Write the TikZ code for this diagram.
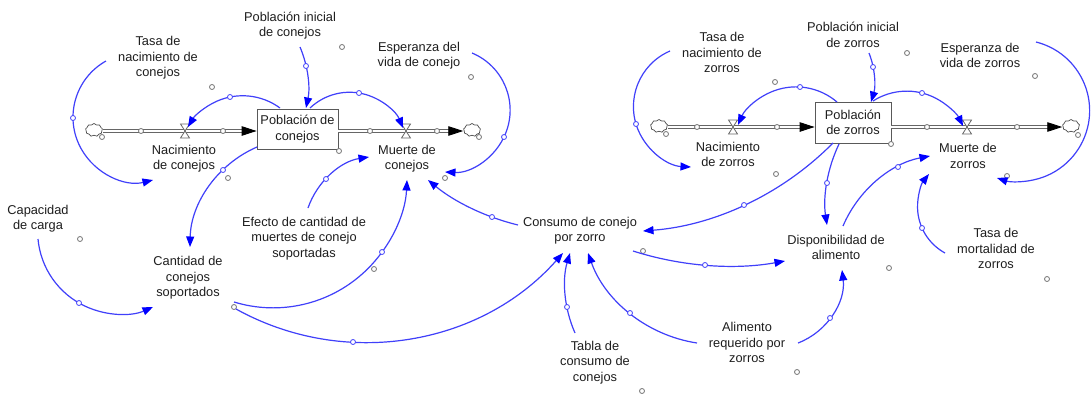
\documentclass[tikz,border=0pt]{standalone}
\usepackage{fontspec}
\setmainfont{Liberation Sans}
\usetikzlibrary{arrows.meta,shapes.symbols}
\definecolor{linkblue}{RGB}{64,64,250}
\definecolor{txt}{RGB}{30,30,30}
\newcount\lkcount
% circular arc through three points (start, through, end)
\newcommand\arclinkraw[4][]{%
  \path (#2) coordinate (lkA) (#3) coordinate (lkB) (#4) coordinate (lkC);
  \pgfpointanchor{lkA}{center}\pgfgetlastxy{\lkAx}{\lkAy}%
  \pgfpointanchor{lkB}{center}\pgfgetlastxy{\lkBx}{\lkBy}%
  \pgfpointanchor{lkC}{center}\pgfgetlastxy{\lkCx}{\lkCy}%
  \edef\lkbx{\fpeval{(\lkBx)-(\lkAx)}}%
  \edef\lkby{\fpeval{(\lkBy)-(\lkAy)}}%
  \edef\lkcx{\fpeval{(\lkCx)-(\lkAx)}}%
  \edef\lkcy{\fpeval{(\lkCy)-(\lkAy)}}%
  \edef\lkd{\fpeval{2*((\lkbx)*(\lkcy)-(\lkby)*(\lkcx))}}%
  \edef\lkbb{\fpeval{(\lkbx)^2+(\lkby)^2}}%
  \edef\lkcc{\fpeval{(\lkcx)^2+(\lkcy)^2}}%
  \edef\lkux{\fpeval{((\lkcy)*(\lkbb)-(\lkby)*(\lkcc))/(\lkd)}}%
  \edef\lkuy{\fpeval{((\lkbx)*(\lkcc)-(\lkcx)*(\lkbb))/(\lkd)}}%
  \edef\lkR{\fpeval{round(sqrt((\lkux)^2+(\lkuy)^2),4)}}%
  \edef\lkSa{\fpeval{round(atand(-(\lkuy),-(\lkux)),4)}}%
  \edef\lkEa{\fpeval{round(atand((\lkcy)-(\lkuy),(\lkcx)-(\lkux)),4)}}%
  \ifnum\fpeval{\lkd>0}=1
    \edef\lkEa{\fpeval{(\lkEa)<(\lkSa) ? (\lkEa)+360 : (\lkEa)}}%
  \else
    \edef\lkEa{\fpeval{(\lkEa)>(\lkSa) ? (\lkEa)-360 : (\lkEa)}}%
  \fi
  \draw[link,#1] (lkA) arc[start angle=\lkSa, end angle=\lkEa, radius=\lkR pt];
}
\newcommand\arclink[4][]{%
  \arclinkraw[#1]{#2}{#3}{#4}%
  \global\advance\lkcount by 1
  \node[lhandle] (lh\the\lkcount) at (lkB) {};
}
\begin{document}
\begin{tikzpicture}[x=1pt,y=-1pt,
  lbl/.style={align=center, inner sep=0pt, text=txt, font=\fontsize{12.8}{15.5}\selectfont},
  stockbox/.style={draw=black!65, fill=white, line width=0.8pt, minimum width=81pt,
    minimum height=40pt, align=center, inner sep=0pt, text=txt, font=\fontsize{12.8}{15.5}\selectfont},
  link/.style={draw=linkblue, line width=1.2pt, -{Triangle[length=10.5pt,width=8pt,color=blue]}},
  lhandle/.style={circle, draw=linkblue, fill=white, inner sep=0pt, minimum size=5pt, line width=0.8pt},
  ghandle/.style={circle, draw=black!55, fill=white, inner sep=0pt, minimum size=5pt, line width=0.8pt},
  pipe/.style={draw=black!60, double=white, double distance=2.4pt, line width=0.9pt,
    -{Triangle[length=15pt,width=9.5pt,color=black]}},
  valvestyle/.style={draw=black!60, fill=white, line width=0.8pt},
  cloudn/.style={cloud, cloud puffs=9, cloud puff arc=120, aspect=1.3, draw=black!70, fill=white,
    inner sep=0pt, minimum width=17pt, minimum height=13pt, line width=0.7pt}]
\useasboundingbox[fill=white] (0,0) rectangle (1091,394);

% ---------- text nodes ----------
\node[lbl] (tasaNC) at (158,58) {Tasa de\\nacimiento de\\conejos};
\node[lbl] (pobIniC) at (290,25.5) {Población inicial\\de conejos};
\node[lbl] (espC) at (419,55.5) {Esperanza del\\vida de conejo};
\node[lbl] (nacC) at (184,158.5) {Nacimiento\\de conejos};
\node[lbl] (muerteC) at (407,158.5) {Muerte de\\conejos};
\node[lbl] (capC) at (38,218.5) {Capacidad\\de carga};
\node[lbl] (cantC) at (188,278) {Cantidad de\\conejos\\soportados};
\node[lbl] (efecto) at (304,238.5) {Efecto de cantidad de\\muertes de conejo\\soportadas};
\node[lbl] (consumo) at (580,230.5) {Consumo de conejo\\por zorro};
\node[lbl] (tabla) at (595,362.5) {Tabla de\\consumo de\\conejos};
\node[lbl] (alimento) at (747,342.5) {Alimento\\requerido por\\zorros};
\node[lbl] (disp) at (836,247.5) {Disponibilidad de\\alimento};
\node[lbl] (tasaMZ) at (996,248.5) {Tasa de\\mortalidad de\\zorros};
\node[lbl] (tasaNZ) at (722,52.5) {Tasa de\\nacimiento de\\zorros};
\node[lbl] (pobIniZ) at (853,35) {Población inicial\\de zorros};
\node[lbl] (espZ) at (980,55.5) {Esperanza de\\vida de zorros};
\node[lbl] (nacZ) at (728,154.5) {Nacimiento\\de zorros};
\node[lbl] (muerteZ) at (968,156) {Muerte de\\zorros};

% ---------- clouds ----------
\node[cloudn] (cl1) at (94,130) {};
\node[cloudn] (cl2) at (472,130) {};
\node[cloudn] (cl3) at (659,126) {};
\node[cloudn] (cl4) at (1071,126) {};

% ---------- stocks ----------
\node[stockbox] (stockC) at (297.5,129) {Población de\\conejos};
\node[stockbox, minimum width=76pt, minimum height=41pt] (stockZ) at (853,122.5) {Población\\de zorros};

% ---------- pipes ----------
\draw[pipe] (cl1.east |- 0,131) -- (stockC.west |- 0,131);
\draw[pipe] (stockC.east |- 0,131) -- (cl2.west |- 0,131);
\draw[pipe] (cl3.east |- 0,127) -- (stockZ.west |- 0,127);
\draw[pipe] (stockZ.east |- 0,127) -- (cl4.west |- 0,127);

% ---------- valves ----------
\foreach \vx/\vy in {185/131, 406/131, 733/127, 967/127}
  \draw[valvestyle] (\vx,\vy) ++(-4.5,-7) -- ++(9,0) -- ++(-9,14) -- ++(9,0) -- cycle;

% ---------- grey handles ----------
\foreach \gx/\gy [count=\gi] in {212/87, 342/47, 471/77, 339/151, 228/178, 445/178, 80/239,
  234/307, 374/269, 643/251, 642/391, 797/372, 889/268, 1047/279, 775/82, 907/53, 1035/76,
  891/144, 776/174, 1007/176, 102/137, 479/137, 666/134, 1078/135,
  141/131, 223/131, 370/131, 437/131, 697/127, 777/127, 927/127, 1017/127}
  \node[ghandle] (g\gi) at (\gx,\gy) {};

% ---------- links ----------
\arclink{106,61}{73,118}{153,180}
\arclink{280,108}{230,97}{188,127}
\arclink{300,47}{306,66}{306,108}
\arclink{310,108}{359,93}{403,128}
\arclink{472,53}{504,137}{445,172}
\arclink{257,147}{223,170}{190,247}
\arclink{38,239}{79,303}{153,307}
\arclink{308,208}{326,179}{369,157}
\arclink{234,302}{382,252}{407,180}
\arclink{518,225}{492,217}{428,180}
\arclink{236,309}{353,342}{563,253}
\arclink{833,143}{744,205}{643,231}
\arclink{633,251}{705,265}{785,261}
\arclink{575,333}{567,307}{570,253}
\arclink{697,343}{630,313}{588,253}
\arclink{798,343}{830,318}{842,270}
\arclink{839,144}{827,183}{827,225}
\arclink{843,226}{898,167}{930,156}
\arclink{945,253}{922,228}{929,174}
\arclinkraw{1036,42}{1089,120}{997,178}
\arclink{670,51}{636,124}{691,167}
\arclink{837,102}{800,87}{738,125}
\arclink{869,53}{873,67}{871,102}
\arclink{873,101}{922,93}{963,126}
\end{tikzpicture}
\end{document}
